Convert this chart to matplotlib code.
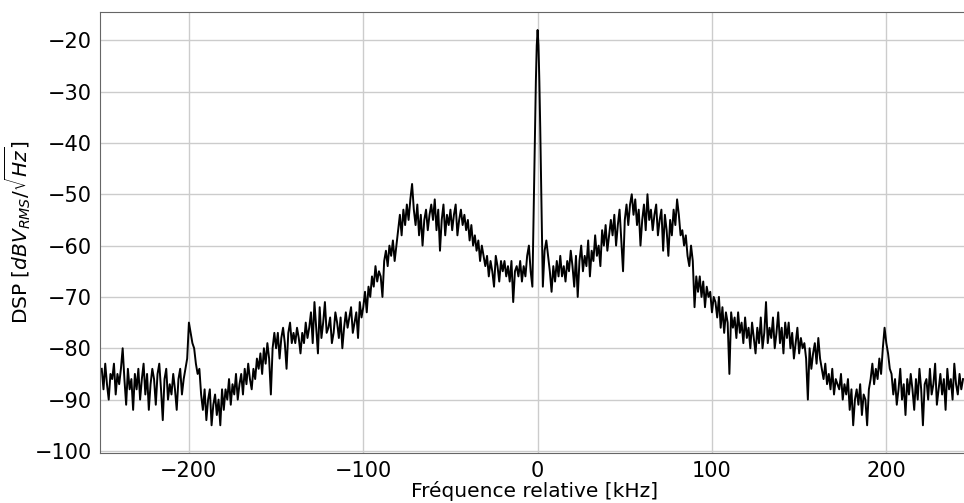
import numpy as np
import matplotlib
matplotlib.use("Agg")
import matplotlib.pyplot as plt

# DSP values, 1 kHz steps
# -250 .. -151 kHz
dsp_a = [
    -84, -88, -83, -87, -90, -85, -86, -83, -89, -85,
    -87, -84, -80, -86, -91, -84, -88, -86, -92, -85,
    -88, -84, -90, -86, -83, -89, -85, -92, -87, -84,
    -86, -91, -85, -83, -88, -94, -86, -84, -90, -87,
    -89, -85, -88, -92, -86, -84, -89, -86, -84, -82,
    -75, -77, -79, -80, -83, -85, -84, -89, -92, -88,
    -94, -90, -88, -95, -91, -89, -93, -90, -95, -88,
    -92, -88, -90, -86, -91, -87, -89, -85, -90, -87,
    -85, -89, -84, -87, -83, -86, -88, -84, -86, -82,
    -84, -81, -85, -80, -83, -79, -82, -89, -80, -77,
]
# -150 .. -3 kHz
dsp_b = [
    -80, -77, -82, -78, -76, -79, -84, -77, -75, -79,
    -77, -79, -76, -78, -81, -77, -79, -75, -78, -76,
    -73, -79, -71, -76, -81, -72, -78, -75, -71, -77,
    -76, -74, -79, -77, -73, -75, -78, -74, -80, -76,
    -73, -76, -74, -72, -77, -75, -73, -78, -71, -74,
    -72, -69, -73, -68, -70, -66, -68, -64, -67, -65,
    -66, -70, -63, -61, -64, -60, -62, -59, -63, -60,
    -57, -54, -58, -53, -56, -52, -55, -51, -48, -53,
    -56, -52, -58, -54, -60, -55, -53, -57, -54, -52,
    -55, -51, -57, -53, -61, -55, -52, -58, -54, -56,
    -53, -57, -54, -52, -58, -55, -53, -56, -54, -57,
    -55, -59, -56, -60, -58, -61, -59, -63, -60, -62,
    -64, -62, -66, -63, -65, -68, -62, -64, -67, -63,
    -65, -63, -66, -64, -67, -63, -71, -65, -64, -66,
    -63, -67, -64, -66, -62, -60, -65, -68,
]
# carrier, 0.5 kHz steps
peak_f = [-2.5, -2.0, -1.5, -1.0, -0.5, 0.0, 0.5, 1.0, 1.5, 2.0, 2.5]
peak_dsp = [-58, -48, -37, -28, -21, -18, -21, -28, -37, -48, -58]
# 3 .. 102 kHz
dsp_c = [
    -68, -61, -59, -62, -65, -69, -64, -67, -63, -66,
    -62, -66, -64, -67, -63, -65, -61, -64, -68, -62,
    -70, -63, -60, -65, -62, -64, -59, -66, -61, -63,
    -58, -62, -60, -64, -57, -60, -56, -61, -58, -55,
    -58, -54, -60, -56, -53, -59, -65, -55, -52, -56,
    -52, -50, -54, -51, -56, -53, -60, -55, -52, -57,
    -50, -55, -53, -57, -54, -52, -58, -55, -53, -61,
    -54, -57, -62, -55, -58, -53, -56, -51, -54, -58,
    -57, -60, -58, -62, -64, -60, -63, -72, -66, -69,
    -66, -70, -67, -72, -68, -70, -69, -73, -70, -71,
]
# 103 .. 244 kHz
dsp_d = [
    -74, -70, -76, -72, -77, -73, -75, -85, -73, -76,
    -74, -78, -73, -77, -75, -79, -74, -78, -76, -80,
    -75, -78, -81, -76, -79, -74, -80, -77, -71, -79,
    -76, -78, -74, -80, -77, -73, -79, -76, -81, -75,
    -78, -75, -80, -77, -82, -79, -76, -81, -78, -80,
    -79, -82, -90, -80, -84, -81, -79, -83, -78, -82,
    -84, -86, -83, -87, -85, -88, -84, -89, -86, -87,
    -88, -85, -90, -87, -89, -86, -92, -88, -95, -90,
    -88, -91, -87, -93, -89, -90, -95, -88, -86, -83,
    -87, -84, -86, -82, -85, -80, -76, -79, -81, -84,
    -85, -89, -86, -91, -88, -84, -90, -87, -93, -86,
    -89, -85, -88, -92, -86, -90, -84, -88, -95, -87,
    -86, -90, -84, -89, -87, -83, -91, -88, -85, -89,
    -86, -92, -84, -88, -86, -90, -83, -87, -89, -85, -88, -86,
]

freq = np.concatenate([
    np.arange(-250, -250 + len(dsp_a)),
    np.arange(-150, -150 + len(dsp_b)),
    peak_f,
    np.arange(3, 3 + len(dsp_c)),
    np.arange(103, 103 + len(dsp_d)),
])
dsp = np.concatenate([dsp_a, dsp_b, peak_dsp, dsp_c, dsp_d])

fig = plt.figure(figsize=(9.64, 5.03), dpi=100)
ax = fig.add_axes([100 / 964, 50 / 503, 870 / 964, 441 / 503])

ax.plot(freq, dsp, color="black", linewidth=1.4)

ax.set_xlim(-251, 248)
ax.set_ylim(-100.4, -14.5)
ax.set_yticks(np.arange(-100, -19, 10))
ax.set_xticks([-200, -100, 0, 100, 200])
ax.grid(True, color="#cccccc", linewidth=1)
ax.set_axisbelow(True)
ax.tick_params(labelsize=15, length=0, pad=6)
for side in ["left", "top", "bottom"]:
    ax.spines[side].set_color("#666666")
ax.spines["right"].set_visible(False)

ax.set_xlabel("Fréquence relative [kHz]", fontsize=14.5, labelpad=0)
ax.set_ylabel(r"DSP [$dBV_{RMS}/\sqrt{Hz}$]", fontsize=14.5, labelpad=1)

fig.savefig("out.png", dpi=100)
